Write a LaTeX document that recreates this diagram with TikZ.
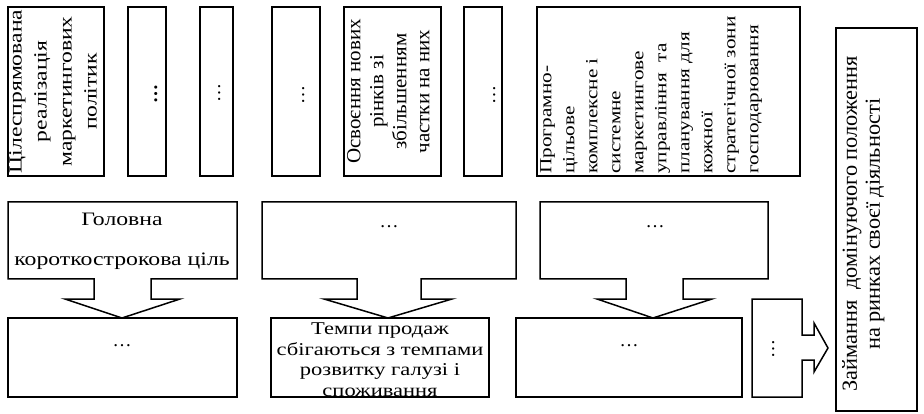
\documentclass[tikz,border=0pt]{standalone}
\usepackage{fontspec}
\setmainfont{Liberation Serif}
\newcommand\myfs[3]{\fontsize{#1}{#2}\selectfont\addfontfeature{FakeStretch=#3}}
\begin{document}
\begin{tikzpicture}[x=1pt,y=-1pt,
  rtxt/.style={rotate=90,inner sep=0},
  htxt/.style={inner sep=0},
  outl/.style={line width=1.5pt,line join=miter}]
\useasboundingbox (0,0) rectangle (924,414);
% top row boxes
\draw[outl] (8,7) rectangle (104,176);
\draw[outl] (128,7) rectangle (166,176);
\draw[outl] (200,7) rectangle (233,176);
\draw[outl] (272,7) rectangle (320,176);
\draw[outl] (344,7) rectangle (441,176);
\draw[outl] (464,7) rectangle (502,176);
\draw[outl] (537,7) rectangle (800,176);
% right box
\draw[outl] (836,28) rectangle (917,411);
% middle boxes with block arrows
\draw[outl] (8,202) -- (237,202) -- (237,279) -- (151,279) -- (151,299) -- (180,299) -- (122,318) -- (65,299) -- (94,299) -- (94,279) -- (8,279) -- cycle;
\draw[outl] (262,202) -- (516,202) -- (516,279) -- (421,279) -- (421,299) -- (452,299) -- (388,318) -- (324,299) -- (357,299) -- (357,279) -- (262,279) -- cycle;
\draw[outl] (540,202) -- (768,202) -- (768,279) -- (683,279) -- (683,299) -- (712,299) -- (653,318) -- (597,299) -- (626,299) -- (626,279) -- (540,279) -- cycle;
% bottom boxes
\draw[outl] (8,318) rectangle (237,397);
\draw[outl] (271,318) rectangle (489,397);
\draw[outl] (516,318) rectangle (742,397);
\draw[outl] (752,299) -- (802,299) -- (802,335) -- (814,335) -- (814,323) -- (828,348) -- (814,372) -- (814,360) -- (802,360) -- (802,397) -- (752,397) -- cycle;
% texts
\node[rtxt,anchor=north,align=center,font=\myfs{18.6}{25}{1.27}] (t1) at (9,91.5) {Цілеспрямована\\реалізація\\маркетингових\\політик};
\node[rtxt,anchor=base,font=\bfseries\myfs{19}{23}{1}] (t2) at (157,94) {…};
\node[rtxt,anchor=base,font=\myfs{19}{23}{1}] (t3) at (220,93) {…};
\node[rtxt,anchor=base,font=\myfs{19}{23}{1}] (t4) at (304,95) {…};
\node[rtxt,anchor=north,align=center,font=\myfs{20}{23}{1.05}] (t5) at (347,91.5) {Освоєння нових\\рінків зі\\збільшенням\\частки на них};
\node[rtxt,anchor=base,font=\myfs{19}{23}{1}] (t6) at (495,95) {…};
\node[rtxt,anchor=north west,align=left,font=\myfs{17}{23}{1.25}] (t7) at (540,174) {Програмно-\\цільове\\комплексне і\\системне\\маркетингове\\управління~~та\\планування для\\кожної\\стратегічної зони\\господарювання};
\node[rtxt,anchor=north,align=center,font=\myfs{21.5}{23}{1.04}] (r) at (842,224) {Займання~~домінуючого положення\\на ринках своєї діяльності};
\node[htxt,anchor=north,align=center,font=\myfs{19}{40}{1.25}] (ma) at (122,213) {Головна\\короткострокова ціль};
\node[htxt,anchor=base,font=\myfs{19}{23}{1}] (mb) at (389,228) {…};
\node[htxt,anchor=base,font=\myfs{19}{23}{1}] (mc) at (655,228) {…};
\node[htxt,anchor=base,font=\myfs{19}{23}{1}] (ba) at (122,346) {…};
\node[htxt,anchor=north,align=center,font=\myfs{18}{20.5}{1.25}] (bb) at (380,323) {Темпи продаж\\сбігаються з темпами\\розвитку галузі і\\споживання};
\node[htxt,anchor=base,font=\myfs{19}{23}{1}] (bc) at (629,346) {…};
\node[rtxt,anchor=base,font=\myfs{19}{23}{1}] (bd) at (774,349) {…};
\end{tikzpicture}
\end{document}
